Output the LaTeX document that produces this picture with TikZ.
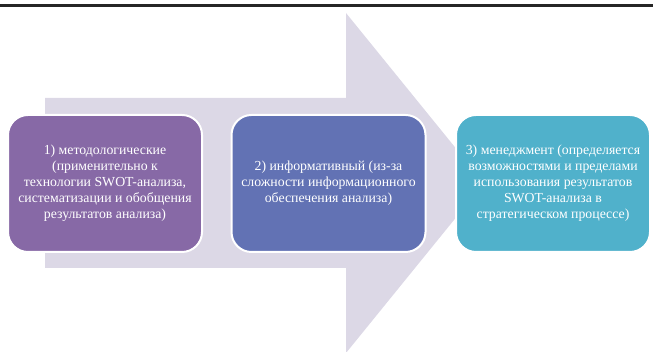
\documentclass[tikz,border=0pt]{standalone}
\usepackage{fontspec}
\setmainfont{Liberation Serif}
\definecolor{arrowgray}{HTML}{DCD8E6}
\definecolor{boxviolet}{HTML}{8769A6}
\definecolor{boxblue}{HTML}{6272B4}
\definecolor{boxteal}{HTML}{50B1CB}
\begin{document}
\begin{tikzpicture}[x=1pt,y=1pt,
		stage/.style={draw=white,line width=2pt,rounded corners=20pt,minimum width=194pt,minimum height=137pt,text=white,align=center,font=\fontsize{13.8}{16}\selectfont}]
				\useasboundingbox (0,0) rectangle (653,352);
				\draw[line width=3pt,black!85] (0,346) -- (653,346);
				\fill[arrowgray] (45,254) -- (346,254) -- (346,339) -- (484,169) -- (346,-1) -- (346,84) -- (45,84) -- cycle;
				\node[stage,fill=boxviolet] (metod) at (105,168.5) {1) методологические\\(применительно к\\технологии SWOT-анализа,\\систематизации и обобщения\\результатов анализа)};
				\node[stage,fill=boxblue] (inform) at (328.5,168.5) {2) информативный (из-за\\сложности информационного\\обеспечения анализа)};
				\node[stage,fill=boxteal] (menedzh) at (553,168.5) {3) менеджмент (определяется\\возможностями и пределами\\использования результатов\\SWOT-анализа в\\стратегическом процессе)};
			\end{tikzpicture}
\end{document}
